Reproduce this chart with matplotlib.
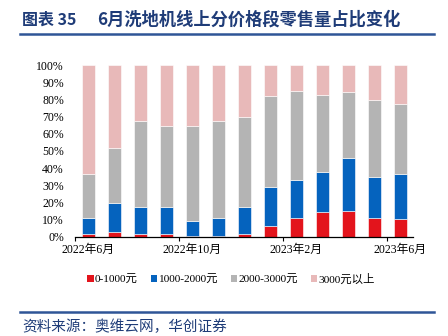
import matplotlib
matplotlib.use("Agg")
import matplotlib.pyplot as plt
from matplotlib.patches import Patch
from matplotlib.lines import Line2D
import numpy as np

months = ["2022年6月", "2022年7月", "2022年8月", "2022年9月", "2022年10月", "2022年11月",
          "2022年12月", "2023年1月", "2023年2月", "2023年3月", "2023年4月", "2023年5月", "2023年6月"]
series_names = ["0-1000元", "1000-2000元", "2000-3000元", "3000元以上"]
share_0_1000 = [1.4, 2.9, 1.4, 1.4, 0.5, 0.5, 1.4, 6.4, 10.9, 14.6, 15.1, 10.9, 10.5]
share_1000_2000 = [9.3, 16.9, 16.1, 16.1, 8.8, 10.6, 15.7, 22.7, 22.1, 22.9, 30.5, 23.7, 25.8]
share_2000_3000 = [25.6, 31.9, 50.1, 47.0, 55.4, 56.5, 52.6, 53.0, 52.0, 45.2, 38.7, 45.0, 41.2]
share_3000_up = [63.7, 48.3, 32.4, 35.5, 35.3, 32.4, 30.3, 17.9, 15.0, 17.3, 15.7, 20.4, 22.5]
colors = ["#E3141C", "#0563BE", "#B4B4B4", "#E8B9B9"]

plt.rcParams["font.family"] = ["Liberation Serif", "Noto Sans CJK SC"]
cjk = ["Noto Sans CJK SC", "DejaVu Sans"]

fig = plt.figure(figsize=(4.48, 3.36), dpi=100)
ax = fig.add_axes([75 / 448, 1 - 236.7 / 336, 338 / 448, 171.7 / 336])

x = np.arange(len(months))
bottom = np.zeros(len(months))
for vals, c in zip([share_0_1000, share_1000_2000, share_2000_3000, share_3000_up], colors):
    v = np.array(vals)
    ax.bar(x, v, width=0.5, bottom=bottom, color=c, edgecolor="white", linewidth=0.4)
    bottom += v

ax.set_xlim(-0.5, 12.5)
ax.set_ylim(0, 100)
ax.set_yticks(np.arange(0, 101, 10))
ax.set_yticklabels([f"{v}%" for v in range(0, 101, 10)], fontsize=8.5)
ax.tick_params(axis="y", length=0, pad=8)

ax.set_xticks([-0.5, 3.5, 7.5, 11.5])
ax.set_xticklabels([])
ax.tick_params(axis="x", which="major", length=3, width=0.8, direction="out")
ax.set_xticks([0, 4, 8, 12], minor=True)
ax.set_xticklabels([months[i] for i in [0, 4, 8, 12]], minor=True, fontsize=8.5)
ax.tick_params(axis="x", which="minor", length=0, pad=5)

for s in ["top", "right", "left"]:
    ax.spines[s].set_visible(False)
ax.spines["bottom"].set_linewidth(0.9)

handles = [Patch(facecolor=c, edgecolor="none") for c in colors]
leg = fig.legend(handles, series_names, loc="center", bbox_to_anchor=(231 / 448, 1 - 279 / 336),
                 ncol=4, frameon=False, handlelength=0.6, handleheight=0.6, handletextpad=0.1,
                 columnspacing=1.1, prop={"size": 8.2})

title_color = "#1F3C78"
fig.text(22 / 448, 1 - 20 / 336, "图表 35", fontfamily=cjk, fontsize=11.5, fontweight="bold",
         color=title_color, va="center", ha="left")
fig.text(97 / 448, 1 - 20 / 336, "6月洗地机线上分价格段零售量占比变化", fontfamily=cjk, fontsize=12.4,
         fontweight="bold", color=title_color, va="center", ha="left")
fig.add_artist(Line2D([20 / 448, 434 / 448], [1 - 34 / 336, 1 - 34 / 336], color="#2F5597", linewidth=1.8))
fig.add_artist(Line2D([20 / 448, 434 / 448], [1 - 312 / 336, 1 - 312 / 336], color="#2F5597", linewidth=1.8))
fig.text(22 / 448, 1 - 327 / 336, "资料来源：奥维云网，华创证券", fontfamily=cjk, fontsize=10.5,
         color="#1F3C78", va="center", ha="left", style="italic")

fig.savefig("out.png", dpi=100)
